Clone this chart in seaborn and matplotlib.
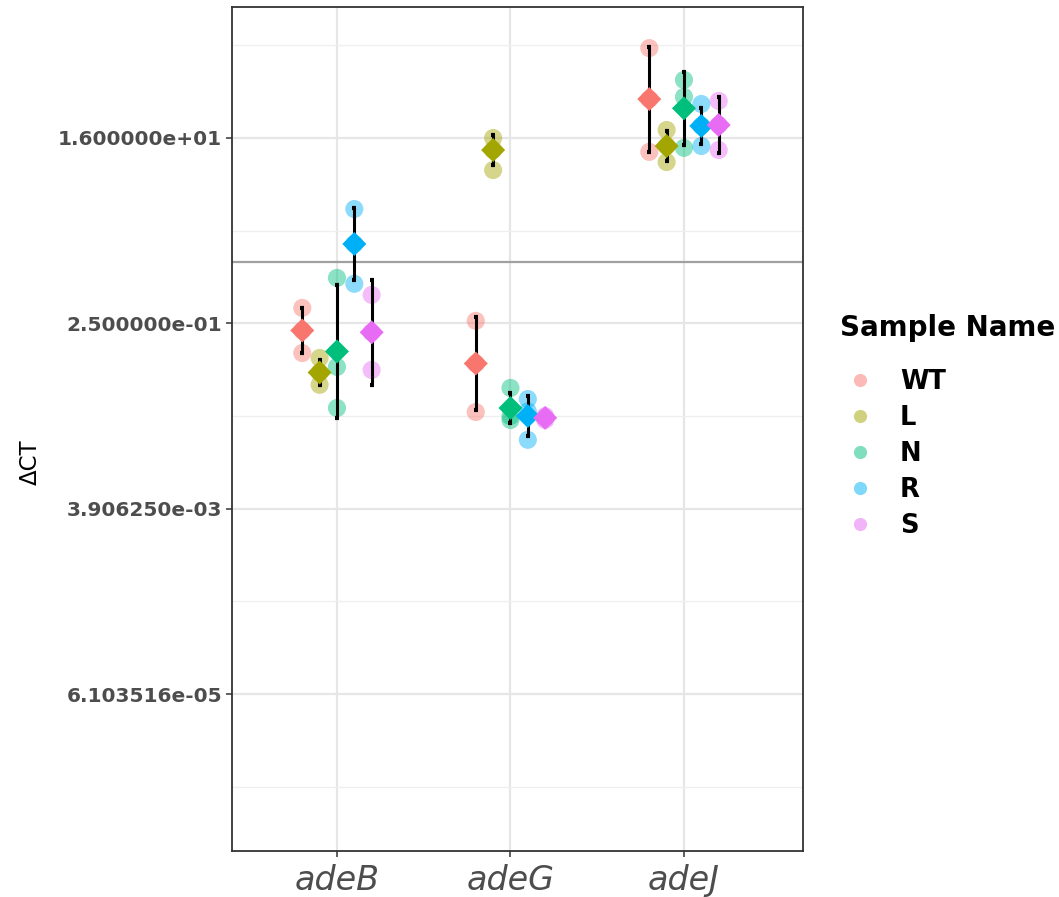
import numpy as np
import pandas as pd
import matplotlib
matplotlib.use("Agg")
import matplotlib.pyplot as plt
import seaborn as sns
from matplotlib.lines import Line2D

# ---------------- data (log2 of ΔCT) ----------------
genes = ["adeB", "adeG", "adeJ"]
samples = ["WT", "L", "N", "R", "S"]
palette = ["#F8766D", "#A3A500", "#00BF7D", "#00B0F6", "#E76BF3"]

# replicate values, one list per sample (WT, L, N, R, S)
adeB_reps = [[-1.50, -2.23, -2.96], [-3.12, -3.59, -3.99], [-0.53, -3.41, -4.74],
             [1.70, 0.57, -0.72], [-1.08, -2.29, -3.51]]
adeG_reps = [[-1.92, -3.30, -4.87], [4.00, 3.61, 2.96], [-4.09, -5.00, -5.13],
             [-4.45, -4.85, -5.77], [-5.00, -5.06, -5.13]]
adeJ_reps = [[6.91, 5.26, 3.55], [4.26, 3.74, 3.22], [5.88, 5.33, 3.68],
             [5.10, 4.39, 3.74], [5.20, 4.42, 3.61]]

# summary (mean +/- sd, log2) as drawn
adeB_mean = [-2.23, -3.59, -2.91, 0.57, -2.29]
adeB_sd = [0.74, 0.39, 2.15, 1.17, 1.70]
adeG_mean = [-3.30, 3.61, -4.74, -5.00, -5.06]
adeG_sd = [1.52, 0.49, 0.49, 0.65, 0.07]
adeJ_mean = [5.26, 3.74, 4.96, 4.39, 4.42]
adeJ_sd = [1.70, 0.47, 1.19, 0.58, 0.91]

y_breaks_log2 = [4, -2, -8, -14]
y_minor_log2 = [7, 1, -5, -11, -17]

# ---------------- tidy frames ----------------
dodge_step = 0.1
rep_rows, sum_rows = [], []
for gi, (g, reps, means, sds) in enumerate(zip(
        genes, [adeB_reps, adeG_reps, adeJ_reps],
        [adeB_mean, adeG_mean, adeJ_mean], [adeB_sd, adeG_sd, adeJ_sd])):
    for si, s in enumerate(samples):
        pos = gi + (si - (len(samples) - 1) / 2) * dodge_step
        for v in reps[si]:
            rep_rows.append(dict(gene=g, sample=s, pos=pos, value=2.0 ** v))
        m, sd = means[si], sds[si]
        sum_rows.append(dict(gene=g, sample=s, pos=pos, mean=2.0 ** m,
                             lo=2.0 ** (m - sd), hi=2.0 ** (m + sd)))
rep_df = pd.DataFrame(rep_rows)
sum_df = pd.DataFrame(sum_rows)

# ---------------- figure ----------------
W, H = 1059, 897
fig = plt.figure(figsize=(W / 100, H / 100), dpi=100)
left, right, top, bottom = 232, 803, 7, 851
ax = fig.add_axes([left / W, 1 - bottom / H, (right - left) / W, (bottom - top) / H])
ax.set_yscale("log", base=2)

sns.scatterplot(data=rep_df, x="pos", y="value", hue="sample", hue_order=samples,
                palette=palette, s=170, alpha=0.45, edgecolor="none",
                legend=False, ax=ax, zorder=2)
ax.errorbar(sum_df["pos"], sum_df["mean"],
            yerr=[sum_df["mean"] - sum_df["lo"], sum_df["hi"] - sum_df["mean"]],
            fmt="none", ecolor="black", elinewidth=2.2, capsize=1.5, capthick=3,
            zorder=3)
sns.scatterplot(data=sum_df, x="pos", y="mean", hue="sample", hue_order=samples,
                palette=palette, marker="D", s=150, edgecolor="none",
                legend=False, ax=ax, zorder=4)
ax.axhline(1, color="#A0A0A0", lw=1.6, zorder=1)

# axes styling (theme_bw-like)
ax.set_xlim(-0.605, 2.686)
ax.set_ylim(2.0 ** -19.08, 2.0 ** 8.24)
ax.set_xticks(range(len(genes)))
ax.set_xticklabels(genes, fontsize=24, style="italic", color="#4D4D4D")
ax.set_yticks([2.0 ** b for b in y_breaks_log2])
ax.set_yticklabels([f"{2.0 ** b:e}" for b in y_breaks_log2], fontsize=14.5,
                   fontweight="bold", color="#4D4D4D")
ax.set_yticks([2.0 ** b for b in y_minor_log2], minor=True)
ax.yaxis.set_minor_formatter(matplotlib.ticker.NullFormatter())
ax.tick_params(which="major", length=4, width=1.1, color="#333333")
ax.tick_params(axis="x", which="major", pad=5)
ax.tick_params(axis="y", which="major", pad=3)
ax.tick_params(which="minor", length=0)
ax.grid(True, which="major", color="#E6E6E6", lw=1.6, zorder=0)
ax.grid(True, which="minor", axis="y", color="#EFEFEF", lw=0.9, zorder=0)
ax.set_axisbelow(True)
for sp in ax.spines.values():
    sp.set_color("#333333")
    sp.set_linewidth(1.3)
ax.set_xlabel("")
ax.set_ylabel("")
fig.text(30 / W, 1 - 462 / H, "ΔCT", rotation=90, fontsize=16.5, color="black",
         ha="center", va="center")

handles = [Line2D([], [], marker="o", linestyle="none", markersize=9.5,
                  markerfacecolor=c, markeredgecolor="none", alpha=0.5)
           for c in palette]
leg = fig.legend(handles, samples, title="Sample Name", loc="upper left",
                 bbox_to_anchor=(840 / W, 1 - 314 / H), frameon=False,
                 prop={"weight": "bold", "size": 18.5},
                 title_fontproperties={"weight": "bold", "size": 20},
                 alignment="left", handlelength=1.56, handletextpad=0.78,
                 labelspacing=0.39, borderpad=0, borderaxespad=0)
leg._legend_box.sep = 19.5

fig.savefig("out.png", dpi=100)
